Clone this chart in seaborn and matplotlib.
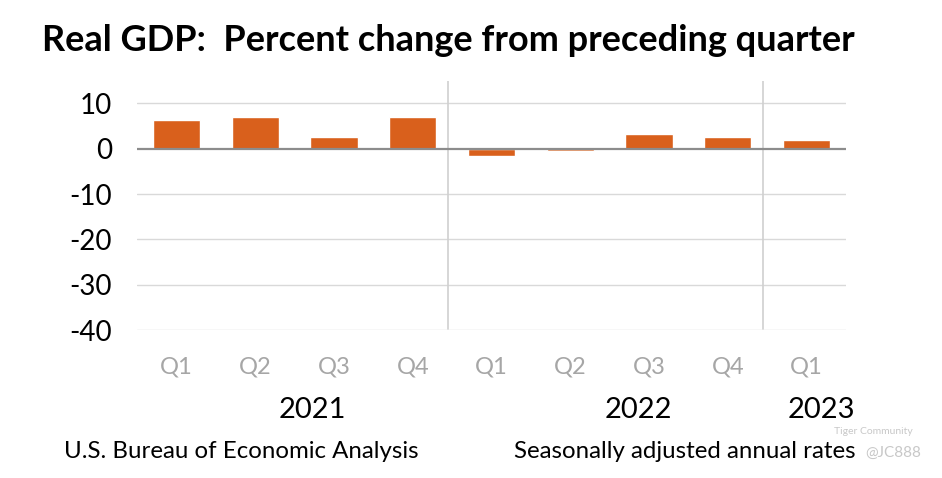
import pandas as pd
import matplotlib
matplotlib.use("Agg")
import matplotlib.pyplot as plt
import seaborn as sns

# Data
years = ["2021", "2021", "2021", "2021", "2022", "2022", "2022", "2022", "2023"]
quarters = ["Q1", "Q2", "Q3", "Q4", "Q1", "Q2", "Q3", "Q4", "Q1"]
gdp_change = [6.3, 7.0, 2.7, 7.0, -1.6, -0.6, 3.2, 2.6, 2.0]
year_labels = ["2021", "2022", "2023"]
y_ticks = [10, 0, -10, -20, -30, -40]

df = pd.DataFrame({"year": years, "quarter": quarters, "value": gdp_change})
df["period"] = df["year"] + " " + df["quarter"]

sns.set_theme(style="white")
plt.rcParams["font.family"] = ["Lato", "DejaVu Sans"]
plt.rcParams["text.color"] = "black"

bar_color = "#D9601C"

fig = plt.figure(figsize=(9.42, 4.78), dpi=100)
ax = fig.add_axes([0.1454, 0.3096, 0.7527, 0.5214])

sns.barplot(data=df, x="period", y="value", color=bar_color, width=0.6,
            saturation=1, ax=ax, zorder=3)

ax.set_ylim(-40, 15)
ax.set_yticks(y_ticks)
ax.set_yticklabels([str(t) for t in y_ticks], fontsize=20, color="black")
ax.set_xlim(-0.5, len(df) - 0.5)
ax.set_xticks(range(len(df)))
ax.set_xticklabels(df["quarter"], fontsize=17, color="#A6A6A6")
ax.tick_params(axis="x", length=0, pad=19)
ax.tick_params(axis="y", length=0, pad=18)
ax.set_xlabel("")
ax.set_ylabel("")

for s in ax.spines.values():
    s.set_visible(False)

for t in y_ticks:
    if t == 0:
        ax.axhline(0, color="#8C8C8C", lw=1.6, zorder=4)
    else:
        ax.axhline(t, color="#D9D9D9", lw=1.0, zorder=1)

# year separators
counts = df.groupby("year", sort=False).size().cumsum().tolist()[:-1]
for c in counts:
    ax.axvline(c - 0.55, ymin=0.005, ymax=1, color="#D0D0D0", lw=1.2, zorder=1)

# year labels under the quarters
year_x = [1.73, 5.86, 8.19]
for x, lab in zip(year_x, year_labels):
    ax.text(x, -0.322, lab, transform=ax.get_xaxis_transform(), ha="center",
            va="center", fontsize=21, color="black")

fig.text(0.045, 0.915, "Real GDP:  Percent change from preceding quarter",
         fontsize=26, fontweight="bold", ha="left", va="center", color="black")
fig.text(0.068, 0.056, "U.S. Bureau of Economic Analysis", fontsize=17.3,
         ha="left", va="center", color="black")
fig.text(0.908, 0.056, "Seasonally adjusted annual rates", fontsize=17.3,
         ha="right", va="center", color="black")

# watermark
fig.text(0.885, 0.098, "Tiger Community", fontsize=7.5, color="#C8C8C8",
         ha="left", va="center")
fig.text(0.918, 0.052, "@JC888", fontsize=11, color="#C8C8C8",
         ha="left", va="center")

fig.savefig("out.png", dpi=100)
